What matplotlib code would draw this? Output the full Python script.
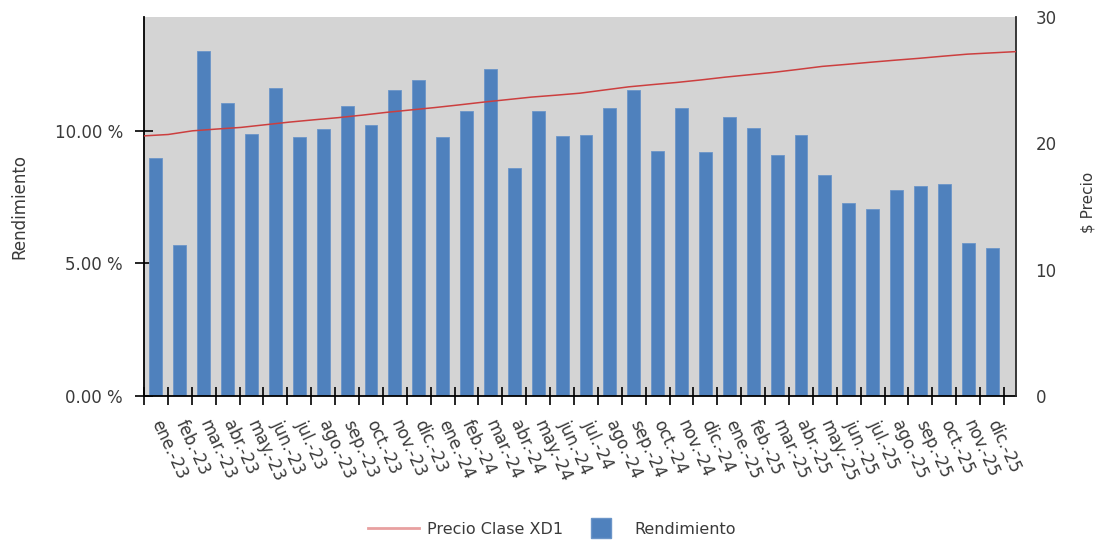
import matplotlib
matplotlib.use("Agg")
import matplotlib.pyplot as plt
import numpy as np
from matplotlib.lines import Line2D
from matplotlib.ticker import FixedLocator, FuncFormatter

# Monthly categories
months = ["ene.-23", "feb.-23", "mar.-23", "abr.-23", "may.-23", "jun.-23",
          "jul.-23", "ago.-23", "sep.-23", "oct.-23", "nov.-23", "dic.-23",
          "ene.-24", "feb.-24", "mar.-24", "abr.-24", "may.-24", "jun.-24",
          "jul.-24", "ago.-24", "sep.-24", "oct.-24", "nov.-24", "dic.-24",
          "ene.-25", "feb.-25", "mar.-25", "abr.-25", "may.-25", "jun.-25",
          "jul.-25", "ago.-25", "sep.-25", "oct.-25", "nov.-25", "dic.-25"]

# Monthly yield (%)
rendimiento = [8.98, 5.69, 13.00, 11.04, 9.89, 11.60, 9.77, 10.06, 10.92, 10.23,
               11.53, 11.91, 9.75, 10.73, 12.31, 8.61, 10.73, 9.79, 9.85, 10.86,
               11.55, 9.25, 10.85, 9.20, 10.53, 10.10, 9.10, 9.82, 8.34, 7.27,
               7.03, 7.76, 7.91, 7.99, 5.76, 5.56]

# Price of class XD1, sampled evenly over the full period
precio = [20.59, 20.70, 20.99, 21.13, 21.26, 21.47, 21.68, 21.86, 22.03, 22.23,
          22.45, 22.64, 22.83, 23.04, 23.26, 23.46, 23.66, 23.81, 23.97, 24.22,
          24.47, 24.65, 24.82, 25.02, 25.24, 25.43, 25.62, 25.85, 26.09, 26.25,
          26.42, 26.58, 26.73, 26.90, 27.06, 27.16, 27.26]

yield_ticks = [0, 5, 10]
price_ticks = [0, 10, 20, 30]

BAR_COLOR = "#4f81bd"
LINE_COLOR = "#cc3f3f"
TEXT_COLOR = "#3a3a3a"
PLOT_BG = "#d4d4d4"

plt.rcParams["font.family"] = ["DejaVu Sans"]

fig = plt.figure(figsize=(11.01, 5.42), dpi=100)
ax = fig.add_axes([144 / 1101, 1 - 396 / 542, 872 / 1101, 379 / 542])
ax.set_facecolor(PLOT_BG)

n = len(months)
x = np.arange(n)
xmin, xmax = -0.5, n
ax.bar(x, rendimiento, width=0.54, color=BAR_COLOR, edgecolor="#6b95c8",
       linewidth=0.6, zorder=2)

ax.set_xlim(xmin, xmax)
ax.set_ylim(0, 30 / 2.1)

# Category boundaries carry the tick marks, centres carry the labels
ax.xaxis.set_major_locator(FixedLocator(np.arange(n + 1) - 0.5))
ax.xaxis.set_major_formatter(FuncFormatter(lambda v, p: ""))
ax.xaxis.set_minor_locator(FixedLocator(x))
ax.set_xticks(x, months, minor=True)
ax.tick_params(axis="x", which="major", direction="inout", length=13,
               width=1.2, color="black")
ax.tick_params(axis="x", which="minor", length=0, pad=18, labelsize=12,
               labelcolor=TEXT_COLOR)
for lbl in ax.get_xticklabels(minor=True):
    lbl.set_rotation(-65)
    lbl.set_rotation_mode("anchor")
    lbl.set_ha("left")
    lbl.set_va("center")

ax.set_yticks(yield_ticks)
ax.yaxis.set_major_formatter(FuncFormatter(lambda v, p: f"{v:.2f} %"))
ax.tick_params(axis="y", direction="inout", length=13, width=1.2,
               color="black", pad=8.6, labelsize=12, labelcolor=TEXT_COLOR)
ax.set_ylabel("Rendimiento", fontsize=12, color=TEXT_COLOR, va="center")
ax.yaxis.set_label_coords((19 - 144) / 872, 0.5)

for side in ["left", "bottom"]:
    ax.spines[side].set_color("black")
    ax.spines[side].set_linewidth(1.3)
ax.spines["top"].set_visible(False)
ax.spines["right"].set_visible(False)

# Price axis
ax2 = ax.twinx()
ax2.set_ylim(0, 30)
ax2.set_yticks(price_ticks)
ax2.tick_params(axis="y", length=0, pad=14, labelsize=12, labelcolor=TEXT_COLOR)
ax2.spines["top"].set_visible(False)
ax2.spines["left"].set_visible(False)
ax2.spines["bottom"].set_visible(False)
ax2.spines["right"].set_color("#2a2a2a")
ax2.spines["right"].set_linewidth(1.3)
px = np.linspace(xmin, xmax, len(precio))
ax2.plot(px, precio, color=LINE_COLOR, linewidth=1.1, zorder=3)
ax2.set_ylabel("$ Precio", fontsize=11, color=TEXT_COLOR, va="center")
ax2.yaxis.set_label_coords((1088 - 144) / 872, (396 - 202) / 379)

handles = [
    Line2D([], [], color="#e8a0a0", linewidth=2),
    Line2D([], [], marker="s", markersize=14, linestyle="none",
           color=BAR_COLOR, markeredgecolor="#6b95c8"),
]
fig.legend(handles, ["Precio Clase XD1", "Rendimiento"], loc="center",
           bbox_to_anchor=(552 / 1101, 1 - 529 / 542), ncol=2, frameon=False,
           fontsize=11.5, handlelength=3.2, handletextpad=0.46,
           columnspacing=0.82, labelcolor=TEXT_COLOR)

fig.savefig("out.png", dpi=100, facecolor="white")
